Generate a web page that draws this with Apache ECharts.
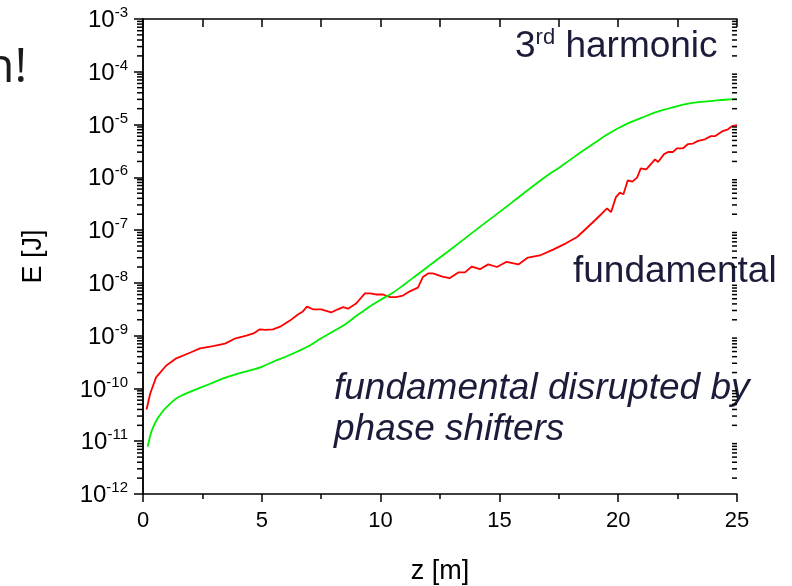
<!DOCTYPE html>
<html>
<head>
<meta charset="utf-8">
<script src="https://cdn.jsdelivr.net/npm/echarts@6/dist/echarts.min.js"></script>
<style>
  html, body { margin: 0; padding: 0; background: #fff; }
  #chart { width: 792px; height: 586px; }
</style>
</head>
<body>
<div id="chart"></div>
<script>
// Pulse energy along the undulator: fundamental vs 3rd harmonic
const zGreen = [0.2, 0.3, 0.4, 0.6, 0.8, 1.0, 1.4, 2.0, 2.5, 3.0, 3.5, 4.0, 4.5, 5.0, 5.5, 6.0, 6.5, 7.0, 7.5, 8.0,
  8.5, 9.0, 9.5, 10.0, 10.5, 11.0, 11.5, 12, 13, 14, 15, 16, 17, 17.5, 18, 18.5, 19, 19.5, 20, 20.5,
  21, 21.5, 22, 22.5, 23, 23.5, 24, 24.5, 25];
const eGreen = [7.9e-12, 1.26e-11, 1.74e-11, 2.63e-11, 3.55e-11, 4.47e-11, 6.46e-11, 8.7e-11, 1.07e-10, 1.32e-10,
  1.62e-10, 1.91e-10, 2.19e-10, 2.57e-10, 3.24e-10, 3.98e-10, 5.01e-10, 6.46e-10, 8.91e-10, 1.2e-9,
  1.62e-9, 2.4e-9, 3.47e-9, 4.79e-9, 6.46e-9, 9.33e-9, 1.38e-8, 2.04e-8, 4.47e-8, 1.0e-7,
  2.19e-7, 4.9e-7, 1.07e-6, 1.51e-6, 2.19e-6, 3.16e-6, 4.47e-6, 6.31e-6, 8.51e-6, 1.1e-5,
  1.35e-5, 1.66e-5, 1.95e-5, 2.24e-5, 2.51e-5, 2.69e-5, 2.82e-5, 2.95e-5, 3.02e-5];

const zRed = [0.15, 0.3, 0.55, 0.97, 1.4, 2.0, 2.4, 2.95, 3.45, 3.9, 4.35, 4.65, 4.92, 5.15, 5.47, 5.77, 6.2, 6.52,
  6.73, 6.9, 7.15, 7.5, 7.92, 8.2, 8.42, 8.63, 8.97, 9.34, 9.55, 9.8, 10.1, 10.4, 10.65, 10.94, 11.23,
  11.57, 11.78, 12.0, 12.2, 12.6, 12.9, 13.27, 13.55, 13.84, 14.18, 14.53, 14.9, 15.3, 15.8, 16.2,
  16.7, 17.26, 17.8, 18.27, 18.7, 19.1, 19.53, 19.7, 19.9, 20.07, 20.22, 20.4, 20.6, 20.8, 20.95,
  21.18, 21.55, 21.68, 21.93, 22.1, 22.3, 22.47, 22.73, 22.94, 23.15, 23.36, 23.65, 23.9, 24.07,
  24.37, 24.62, 24.79, 25.0];
const eRed = [3.98e-11, 7.94e-11, 1.62e-10, 2.69e-10, 3.72e-10, 4.79e-10, 5.75e-10, 6.31e-10, 7.08e-10, 8.91e-10,
  1.0e-9, 1.1e-9, 1.32e-9, 1.29e-9, 1.32e-9, 1.48e-9, 1.95e-9, 2.51e-9, 2.88e-9, 3.55e-9,
  3.16e-9, 3.16e-9, 2.75e-9, 3.16e-9, 3.47e-9, 3.24e-9, 4.07e-9, 6.31e-9, 6.31e-9, 6.03e-9,
  6.03e-9, 5.37e-9, 5.37e-9, 5.75e-9, 6.92e-9, 8.13e-9, 1.29e-8, 1.51e-8, 1.51e-8, 1.32e-8,
  1.23e-8, 1.58e-8, 1.58e-8, 2.04e-8, 1.82e-8, 2.24e-8, 2.0e-8, 2.51e-8, 2.24e-8, 3.02e-8,
  3.31e-8, 4.27e-8, 5.62e-8, 7.41e-8, 1.12e-7, 1.66e-7, 2.57e-7, 2.19e-7, 4.17e-7, 5.13e-7,
  4.79e-7, 8.71e-7, 8.32e-7, 1.0e-6, 1.48e-6, 1.41e-6, 2.19e-6, 1.95e-6, 2.75e-6, 3.02e-6,
  3.02e-6, 3.55e-6, 3.55e-6, 4.27e-6, 4.37e-6, 4.9e-6, 5.25e-6, 6.03e-6, 6.03e-6, 7.41e-6,
  8.13e-6, 9.33e-6, 9.77e-6];

// Axis ranges and tick labels
const xTicks = [0, 5, 10, 15, 20, 25];
const yMinExp = -12, yMaxExp = -3;

const FONT = '"Liberation Sans", Arial, sans-serif';
const INK = '#1b1b3a';

const chart = echarts.init(document.getElementById('chart'), null, { renderer: 'canvas' });

const axisLineStyle = { color: '#000', width: 1.5 };

const annotations = [
  {
    type: 'text', left: 515, top: 27, z: 10,
    style: {
      text: '{n|3}{s|rd}{n| harmonic}',
      rich: {
        n: { fontSize: 37, fontFamily: FONT, fill: INK, lineHeight: 38, verticalAlign: 'bottom' },
        s: { fontSize: 22, fontFamily: FONT, fill: INK, lineHeight: 22, verticalAlign: 'top' }
      }
    }
  },
  {
    type: 'text', x: 573, y: 272, z: 10,
    style: { text: 'fundamental', fontSize: 37, fontFamily: FONT, fill: INK, verticalAlign: 'middle', align: 'left' }
  },
  {
    type: 'text', x: 334, y: 389, z: 10,
    style: { text: 'fundamental disrupted by', fontSize: 37, fontStyle: 'italic', fontFamily: FONT, fill: INK, verticalAlign: 'middle', align: 'left' }
  },
  {
    type: 'text', x: 334, y: 430, z: 10,
    style: { text: 'phase shifters', fontSize: 37, fontStyle: 'italic', fontFamily: FONT, fill: INK, verticalAlign: 'middle', align: 'left' }
  },
  {
    type: 'text', x: -15, y: 68, z: 10,
    style: { text: 'n!', fontSize: 48, fontFamily: '"Open Sans", "Noto Sans", sans-serif', fill: '#1a1a1a', verticalAlign: 'middle', align: 'left' }
  }
];

chart.setOption({
  animation: false,
  backgroundColor: '#fff',
  grid: { left: 143, right: 55, top: 19, bottom: 92, outerBoundsMode: 'none', containLabel: false },
  xAxis: [
    {
      type: 'value', min: xTicks[0], max: xTicks[xTicks.length - 1], interval: 5,
      position: 'bottom',
      axisLine: { show: true, lineStyle: axisLineStyle },
      axisTick: { show: true, inside: false, length: 8, lineStyle: { color: '#000', width: 1.5 } },
      minorTick: { show: true, splitNumber: 2, length: 5, lineStyle: { color: '#000', width: 1.5 } },
      splitLine: { show: false },
      axisLabel: { color: '#000', fontSize: 22, fontFamily: FONT, margin: 16 },
      name: 'z [m]', nameLocation: 'middle', nameGap: 64,
      nameTextStyle: { color: '#000', fontSize: 27, fontFamily: FONT }
    },
    {
      type: 'value', min: xTicks[0], max: xTicks[xTicks.length - 1], interval: 5,
      position: 'top',
      axisLine: { show: true, lineStyle: axisLineStyle },
      axisTick: { show: true, inside: true, length: 8, lineStyle: { color: '#000', width: 1.5 } },
      minorTick: { show: true, splitNumber: 2, length: 8, lineStyle: { color: '#000', width: 1.5 } },
      splitLine: { show: false },
      axisLabel: { show: false }
    }
  ],
  yAxis: [
    {
      type: 'log', logBase: 10, min: Math.pow(10, yMinExp), max: Math.pow(10, yMaxExp), interval: 1,
      position: 'left',
      axisLine: { show: true, lineStyle: axisLineStyle },
      axisTick: { show: true, inside: false, length: 9, lineStyle: { color: '#000', width: 1.5 } },
      splitLine: { show: false },
      axisLabel: {
        margin: 15,
        formatter: function (v) {
          const e = Math.round(Math.log10(v));
          return '{b|10}{s|' + e + '}';
        },
        rich: {
          b: { fontSize: 24, fontFamily: FONT, color: '#000', lineHeight: 27, verticalAlign: 'bottom' },
          s: { fontSize: 15, fontFamily: FONT, color: '#000', lineHeight: 15, verticalAlign: 'top' }
        }
      },
      name: 'E [J]', nameLocation: 'middle', nameRotate: 90, nameGap: 96,
      nameTextStyle: { color: '#000', fontSize: 27, fontFamily: FONT }
    },
    {
      type: 'log', logBase: 10, min: Math.pow(10, yMinExp), max: Math.pow(10, yMaxExp), interval: 1,
      position: 'right',
      axisLine: { show: true, lineStyle: axisLineStyle },
      axisTick: { show: true, inside: true, length: 8, lineStyle: { color: '#000', width: 1.5 } },
      splitLine: { show: false },
      axisLabel: { show: false }
    }
  ],
  graphic: annotations,
  series: [
    {
      name: 'fundamental', type: 'line', xAxisIndex: 0, yAxisIndex: 0,
      showSymbol: false, smooth: false,
      lineStyle: { color: '#ff0000', width: 1.8 },
      data: zRed.map((z, i) => [z, eRed[i]])
    },
    {
      name: '3rd harmonic', type: 'line', xAxisIndex: 0, yAxisIndex: 0,
      showSymbol: false, smooth: 0.35,
      lineStyle: { color: '#00ee00', width: 1.8 },
      data: zGreen.map((z, i) => [z, eGreen[i]])
    }
  ]
});

// Log minor ticks (2..9 in each decade), placed through the axis scale:
// outward on the left axis, inward on the right axis.
const minorTicks = [];
for (let e = yMinExp; e < yMaxExp; e++) {
  for (let m = 2; m <= 9; m++) {
    const v = m * Math.pow(10, e);
    const pL = chart.convertToPixel({ xAxisIndex: 0, yAxisIndex: 0 }, [xTicks[0], v]);
    const pR = chart.convertToPixel({ xAxisIndex: 0, yAxisIndex: 0 }, [xTicks[xTicks.length - 1], v]);
    const st = { stroke: '#000', lineWidth: 1.5 };
    minorTicks.push({ type: 'line', silent: true, z: 100, shape: { x1: pL[0] - 6, y1: pL[1], x2: pL[0], y2: pL[1] }, style: st });
    minorTicks.push({ type: 'line', silent: true, z: 100, shape: { x1: pR[0] - 5, y1: pR[1], x2: pR[0], y2: pR[1] }, style: st });
  }
}
chart.setOption({ graphic: annotations.concat(minorTicks) });
</script>
</body>
</html>
